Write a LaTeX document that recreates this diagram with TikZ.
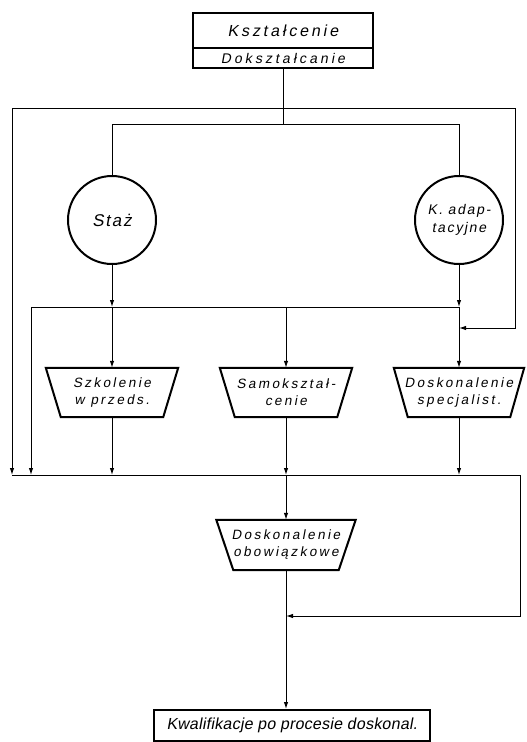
\documentclass[tikz,border=0pt]{standalone}
\usepackage{fontspec}
\setmainfont{Liberation Sans}
\newfontfamily\hand{Liberation Sans}[FakeSlant=0.18]
\usetikzlibrary{arrows.meta,calc}
\begin{document}
\begin{tikzpicture}[x=1pt,y=-1pt,
  conn/.style={line width=1pt},
  arr/.style={line width=1pt,-{Latex[length=7pt,width=4.5pt]}},
  box/.style={draw,line width=2pt,inner sep=0pt,align=center},
  circ/.style={circle,draw,line width=2pt,minimum size=88pt,inner sep=0pt,align=center},
  trap/.style={inner sep=0pt,minimum height=49pt,align=center},
  tf/.style={font=\hand\fontsize{13.5}{17}\selectfont\addfontfeatures{LetterSpace=18}},
]
\fill[white] (0,0) rectangle (527,742);
\useasboundingbox (0,0) rectangle (527,742);

% top box
\node[box,minimum width=180pt,minimum height=35pt,
      font=\hand\fontsize{16}{18}\selectfont\addfontfeatures{LetterSpace=18}] (ksz) at (283,30.5) {Kształcenie};
\node[box,minimum width=180pt,minimum height=20pt,
      font=\hand\fontsize{14}{16}\selectfont\addfontfeatures{LetterSpace=22}] (dok) at (283,58) {Dokształcanie};

% circles
\node[circ,font=\hand\fontsize{17}{19}\selectfont\addfontfeatures{LetterSpace=10}] (staz) at (112,220) {Staż};
\node[circ,font=\hand\fontsize{14}{18}\selectfont\addfontfeatures{LetterSpace=12}] (kad) at (459,220) {K. adap-\\tacyjne};

% trapezoids
\node[trap,tf,minimum width=132pt] (szk) at (112,392.5) {Szkolenie\\w przeds.};
\node[trap,tf,minimum width=132pt] (sam) at (286,392.5) {Samokształ-\\cenie};
\node[trap,tf,minimum width=130pt] (dsp) at (459,392.5) {Doskonalenie\\specjalist.};
\node[trap,tf,minimum width=139pt,minimum height=50pt] (dob) at (286,545) {Doskonalenie\\obowiązkowe};
\foreach \n/\d in {szk/15,sam/15,dsp/14,dob/17}
  \draw[line width=2pt,line join=miter] (\n.north west) -- (\n.north east)
     -- ([xshift=-\d pt]\n.south east) -- ([xshift=\d pt]\n.south west) -- cycle;

% final box
\node[box,minimum width=276pt,minimum height=31pt,
      font=\hand\fontsize{16}{18}\selectfont\addfontfeatures{LetterSpace=1.5}] (kwal) at (292,725.5) {Kwalifikacje po procesie doskonal.};

% junction coordinates
\coordinate (o1) at (283,108);
\coordinate (i1) at (283,124);
\coordinate (bl) at (12,475);
\coordinate (tr) at (515,328);
\coordinate (rj) at (459,328);
\coordinate (h2l) at (31,307);
\coordinate (h2a) at (112,307);
\coordinate (h2b) at (286,307);
\coordinate (h2c) at (459,307);
\coordinate (bl2) at (31,475);
\coordinate (b1) at (112,475);
\coordinate (b2) at (286,475);
\coordinate (b3) at (459,475);
\coordinate (br) at (520,475);
\coordinate (rj2) at (286,616);

% connectors
\draw[conn] (dok.south) -- (i1);
\draw[conn] (i1) -| (staz.north);
\draw[conn] (i1) -| (kad.north);
\draw[arr] (o1) -| (bl);
\draw[arr] (o1) -| (tr) -- (rj);
\draw[arr] (staz.south) -- (h2a);
\draw[arr] (kad.south) -- (h2c);
\draw[conn] (h2l) -- (h2c);
\draw[arr] (h2l) -- (bl2);
\draw[arr] (h2a) -- (szk.north);
\draw[arr] (h2b) -- (sam.north);
\draw[arr] (h2c) -- (dsp.north);
\draw[arr] (szk.south) -- (b1);
\draw[arr] (sam.south) -- (b2);
\draw[arr] (dsp.south) -- (b3);
\draw[conn] (bl) -- (br);
\draw[arr] (br) |- (rj2);
\draw[arr] (b2) -- (dob.north);
\draw[arr] (dob.south) -- (dob.south |- kwal.north);
\end{tikzpicture}
\end{document}
